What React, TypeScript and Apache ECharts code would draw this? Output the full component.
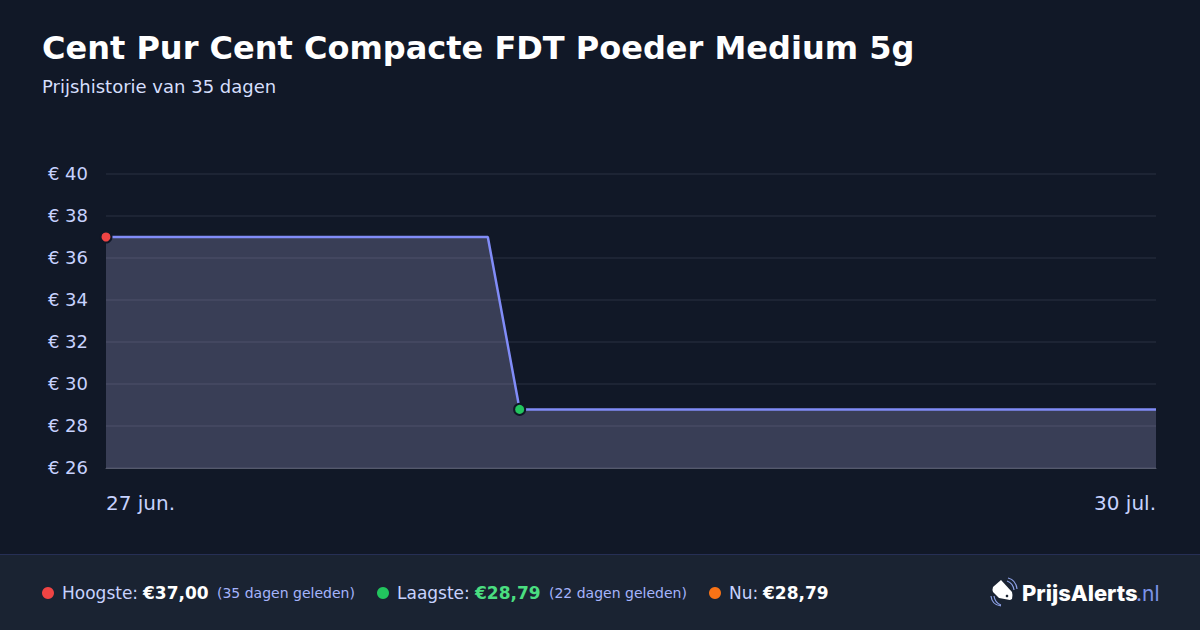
import React, { useEffect, useRef } from "react";
import * as echarts from "echarts";

const titleText = "Cent Pur Cent Compacte FDT Poeder Medium 5g";
const subtitleText = "Prijshistorie van 35 dagen";
const days = ["27 jun.","28 jun.","29 jun.","30 jun.","1 jul.","2 jul.","3 jul.","4 jul.","5 jul.","6 jul.","7 jul.","8 jul.","9 jul.","10 jul.","11 jul.","12 jul.","13 jul.","14 jul.","15 jul.","16 jul.","17 jul.","18 jul.","19 jul.","20 jul.","21 jul.","22 jul.","23 jul.","24 jul.","25 jul.","26 jul.","27 jul.","28 jul.","29 jul.","30 jul."];
const prices = [37,37,37,37,37,37,37,37,37,37,37,37,37,28.79,28.79,28.79,28.79,28.79,28.79,28.79,28.79,28.79,28.79,28.79,28.79,28.79,28.79,28.79,28.79,28.79,28.79,28.79,28.79,28.79];
const highIndex = 0;
const lowIndex = 13;

const BG = "#111827";
const FOOT = "#1a2332";
const LAB = "#c7d2fe";
const FONT = "'DejaVu Sans', sans-serif";

echarts.graphic.registerShape("tagBody", echarts.graphic.extendPath(
  "M1001 580 L1012 592 Q1013 595 1012 599 L1010 600 L999 598 L993 592 Q992 590 993 587 Z", {}));
echarts.graphic.registerShape("tagArcs", echarts.graphic.extendPath(
  "M1007 581 Q1013 583 1014 590 M1008 578 Q1016 580 1017 589 M994 596 Q995 603 1001 605 M991 596 Q992 605 1001 606", {}));

export default function App() {
  const ref = useRef<HTMLDivElement>(null);
  useEffect(() => {
    const chart = echarts.init(ref.current!, undefined, { renderer: "svg" });
    const dot = (value: number, color: string) => ({
      value, symbol: "circle", symbolSize: 11,
      itemStyle: { color, borderColor: BG, borderWidth: 2, opacity: 1 },
    });
    const t = (x: number, y: number, text: string, fill: string, fontSize: number, fontWeight: any = "normal") => ({
      type: "text", x, y, z: 10,
      style: { text, fill, fontSize, fontWeight, fontFamily: FONT, textVerticalAlign: "middle" },
    });
    const c = (x: number, color: string) => ({
      type: "circle", z: 10, shape: { cx: x, cy: 593, r: 6 }, style: { fill: color },
    });
    chart.setOption({
      animation: false,
      backgroundColor: BG,
      grid: { left: 106, right: 44, top: 174, height: 294, containLabel: false },
      xAxis: {
        type: "category", data: days, boundaryGap: false,
        axisTick: { show: false },
        axisLine: { show: true, lineStyle: { color: "#555a6c", width: 1 } },
        splitLine: { show: false },
        axisLabel: {
          color: LAB, fontSize: 20, fontFamily: FONT, margin: 25,
          interval: (i: number) => i === 0 || i === days.length - 1,
          alignMinLabel: "left", alignMaxLabel: "right", showMinLabel: true, showMaxLabel: true,
        },
      },
      yAxis: {
        type: "value", min: 26, max: 40, interval: 2,
        axisLine: { show: false }, axisTick: { show: false },
        splitLine: { lineStyle: { color: "#1d2434", width: 2 } },
        axisLabel: { color: LAB, fontSize: 18, fontFamily: FONT, margin: 18, verticalAlign: "bottom", lineHeight: 2, formatter: "€ {value}" },
      },
      series: [{
        type: "line", clip: false, showSymbol: true, showAllSymbol: true, symbol: "none",
        data: prices.map((v, i) => i === highIndex ? dot(v, "#ef4444") : i === lowIndex ? dot(v, "#22c55e") : { value: v, symbol: "none" }),
        lineStyle: { color: "#818cf8", width: 2.5 },
        areaStyle: { color: "rgba(189,184,239,0.24)", opacity: 1, origin: "start" },
      }],
      graphic: [
        { type: "rect", z: 1, shape: { x: 0, y: 554, width: 1200, height: 76 }, style: { fill: FOOT } },
        { type: "rect", z: 2, shape: { x: 0, y: 554, width: 1200, height: 1 }, style: { fill: "#262f55" } },
        t(42, 48, titleText, "#ffffff", 32, "bold"),
        t(42, 86, subtitleText, "#d6dffc", 18),
        c(48, "#ef4444"),
        t(62, 593, "Hoogste:", LAB, 17),
        t(143, 593, "€37,00", "#ffffff", 17, "bold"),
        t(217, 593, "(35 dagen geleden)", "#a5b4fc", 14),
        c(383, "#22c55e"),
        t(397, 593, "Laagste:", LAB, 17),
        t(475, 593, "€28,79", "#4ade80", 17, "bold"),
        t(549, 593, "(22 dagen geleden)", "#a5b4fc", 14),
        c(715, "#f97316"),
        t(729, 593, "Nu:", LAB, 17),
        t(763, 593, "€28,79", "#ffffff", 17, "bold"),
        { type: "tagBody", z: 10, style: { fill: "#ffffff" } },
        { type: "tagArcs", z: 10, style: { fill: "none", stroke: "#8ea2e8", lineWidth: 1.2 } },
        { type: "circle", z: 11, shape: { cx: 1007, cy: 596, r: 1.3 }, style: { fill: FOOT } },
        { type: "text", x: 1022, y: 593, z: 10, style: { text: "PrijsAlerts", fill: "#ffffff", fontSize: 22, fontWeight: 800, fontFamily: "Inter", textVerticalAlign: "middle" } },
        { type: "text", x: 1136, y: 593, z: 10, style: { text: ".nl", fill: "#7c93e8", fontSize: 21, fontWeight: "normal", fontFamily: "Inter", textVerticalAlign: "middle" } },
      ],
    });
    return () => chart.dispose();
  }, []);
  return <div ref={ref} style={{ position: "absolute", left: 0, top: 0, width: 1200, height: 630 }} />;
}
